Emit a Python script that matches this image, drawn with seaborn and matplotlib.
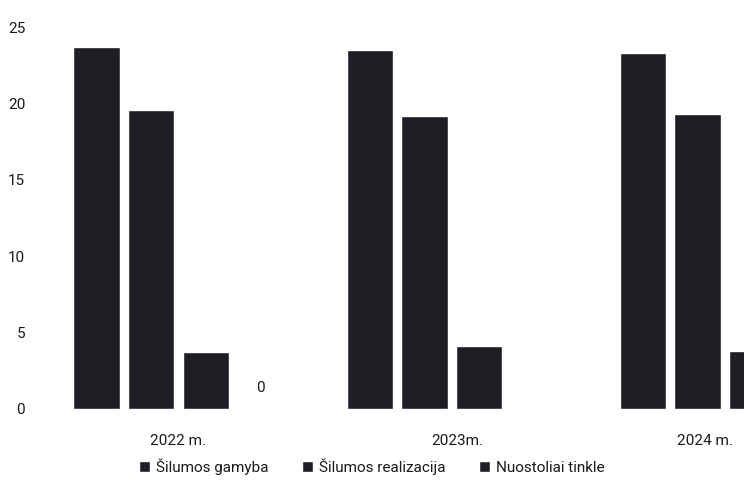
"""Heat production, realization and network losses by year."""

import matplotlib

matplotlib.use("Agg")

import matplotlib.pyplot as plt
import matplotlib.transforms as mtransforms
import pandas as pd
import seaborn as sns
from matplotlib.patches import Patch

years = ["2022 m.", "2023m.", "2024 m."]
series_names = ["Šilumos gamyba", "Šilumos realizacija", "Nuostoliai tinkle", "Kita"]
gamyba = [23.7, 23.5, 23.3]
realizacija = [19.6, 19.2, 19.3]
nuostoliai = [3.75, 4.1, 3.8]
kita = [0, 0, 0]

BAR_COLOR = "#1e1e25"
TEXT_COLOR = "#1a1a1a"

rows = []
for name, values in zip(series_names, [gamyba, realizacija, nuostoliai, kita]):
    for year, value in zip(years, values):
        rows.append({"year": year, "series": name, "value": value})
df = pd.DataFrame(rows)

sns.set_theme(style="white")
plt.rcParams["font.family"] = ["Roboto", "DejaVu Sans"]

fig = plt.figure(figsize=(7.44, 4.95), dpi=100)
ax = fig.add_axes([0.06, 0.174, 0.94, 0.771])

sns.barplot(
    data=df,
    x="year",
    y="value",
    hue="series",
    palette=[BAR_COLOR] * 4,
    width=0.8,
    gap=0.15,
    saturation=1,
    legend=False,
    ax=ax,
)

ax.bar_label(ax.containers[3], labels=["0", "", ""], padding=10,
             fontsize=11, color=TEXT_COLOR)

ax.set_xlim(-0.49, 2.07)
ax.set_ylim(0, 25)
ax.set_yticks([0, 5, 10, 15, 20, 25])
ax.set_xlabel("")
ax.set_ylabel("")
sns.despine(ax=ax, left=True, bottom=True)
ax.tick_params(axis="y", length=0, pad=14, labelsize=11, labelcolor=TEXT_COLOR)
ax.tick_params(axis="x", length=0, pad=18, labelsize=11, labelcolor=TEXT_COLOR)

# the scanned original has the later year labels nudged relative to the bars
for label, dx in zip(ax.get_xticklabels(), [0, 6, -20]):
    offset = mtransforms.ScaledTranslation(dx / 100, 0, fig.dpi_scale_trans)
    label.set_transform(label.get_transform() + offset)

handles = [Patch(facecolor=BAR_COLOR) for _ in series_names[:3]]
fig.legend(
    handles,
    series_names[:3],
    loc="center",
    bbox_to_anchor=(0.5, 0.057),
    ncol=3,
    frameon=False,
    fontsize=11,
    handlelength=0.7,
    handleheight=0.7,
    handletextpad=0.4,
    columnspacing=2.2,
    labelcolor=TEXT_COLOR,
)

fig.savefig("out.png", dpi=100)
